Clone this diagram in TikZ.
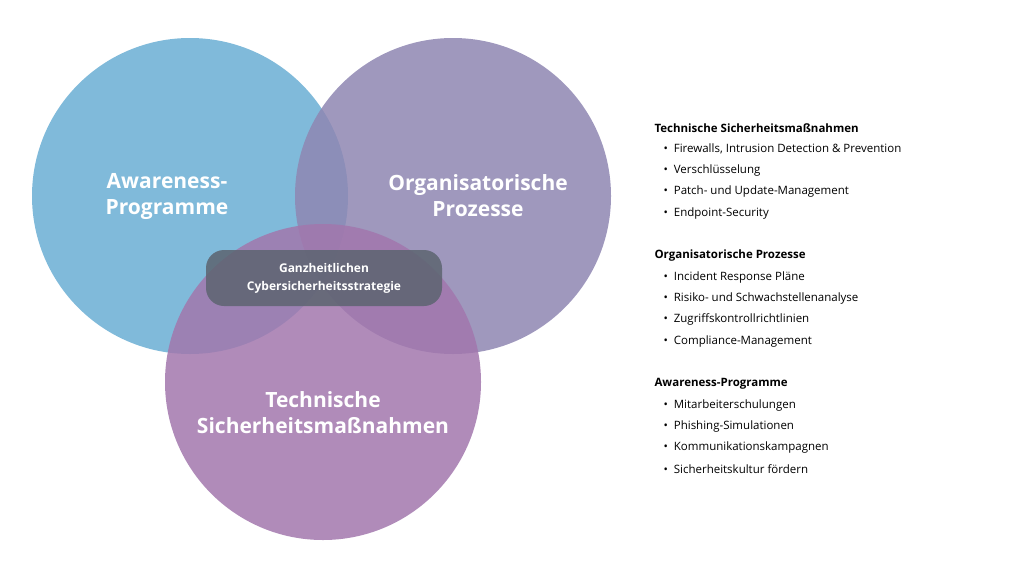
\documentclass[tikz,border=0pt]{standalone}
\usepackage{fontspec}
\setmainfont{Open Sans}
\definecolor{awblue}{HTML}{6AAED3}
\definecolor{orgpurple}{HTML}{8E86B2}
\definecolor{techpink}{HTML}{A277AD}
\definecolor{boxgray}{HTML}{5C6470}
\tikzset{
  venn/.style={circle, minimum size=316pt, fill opacity=0.85, text opacity=1, text=white, font=\bfseries\fontsize{21}{26}\selectfont, align=center},
  headline/.style={anchor=west, font=\bfseries\fontsize{11.5}{14}\selectfont},
  item/.style={anchor=west, font=\fontsize{11.5}{14}\selectfont}
}
\begin{document}
\begin{tikzpicture}[x=1pt,y=-1pt]
  \useasboundingbox (0,0) rectangle (1024,576);
  % Kreise
  \node[venn, fill=awblue] (aw) at (190,196) {};
  \node[venn, fill=orgpurple] (org) at (453,196) {};
  \node[venn, fill=techpink] (tech) at (323,382) {};
  \node[text=white, font=\bfseries\fontsize{21}{26}\selectfont, align=center] (awl) at (167,196) {Awareness-\\Programme};
  \node[text=white, font=\bfseries\fontsize{21}{26}\selectfont, align=center] (orgl) at (478,196) {Organisatorische\\Prozesse};
  \node[text=white, font=\bfseries\fontsize{21}{26}\selectfont, align=center] (techl) at (323,413) {Technische\\Sicherheitsmaßnahmen};
  % Mitte
  \node[fill=boxgray, fill opacity=0.85, text opacity=1, text=white, rounded corners=18pt, minimum width=236pt, minimum height=56pt, align=center, font=\bfseries\fontsize{12}{18}\selectfont] (mitte) at (324,278) {Ganzheitlichen\\Cybersicherheitsstrategie};
  % Liste rechts
  \node[headline] (h1) at (651,128) {Technische Sicherheitsmaßnahmen};
  \foreach \t [count=\i] in {Firewalls{,} Intrusion Detection \& Prevention, Verschlüsselung, Patch- und Update-Management, Endpoint-Security}
    \node[item] (t\i) at (660,128+21.3*\i) {\textbullet\hspace{6pt}\t};
  \node[headline] (h2) at (651,256) {Organisatorische Prozesse};
  \foreach \t [count=\i] in {Incident Response Pläne, Risiko- und Schwachstellenanalyse, Zugriffskontrollrichtlinien, Compliance-Management}
    \node[item] (o\i) at (660,256+21.3*\i) {\textbullet\hspace{6pt}\t};
  \node[headline] (h3) at (651,384) {Awareness-Programme};
  \foreach \t [count=\i] in {Mitarbeiterschulungen, Phishing-Simulationen, Kommunikationskampagnen, Sicherheitskultur fördern}
    \node[item] (a\i) at (660,384+21.3*\i) {\textbullet\hspace{6pt}\t};
\end{tikzpicture}
\end{document}
